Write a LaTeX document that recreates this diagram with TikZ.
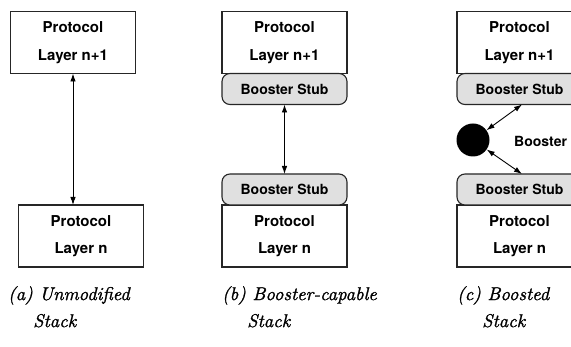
\documentclass[tikz,border=0pt]{standalone}
\usepackage{fontspec}
\newfontfamily\helv{TeX Gyre Heros}
\newfontfamily\capfont{lmroman10-italic.otf}[FakeBold=1.2]
\usetikzlibrary{arrows.meta, positioning, calc}

\begin{document}
\begin{tikzpicture}[x=1pt, y=-1pt,
    layer/.style={draw=black!85, line width=1.1pt, fill=white, outer sep=0pt, inner sep=0pt,
      minimum width=125pt, minimum height=62pt, align=center,
      font=\helv\bfseries\fontsize{15}{27.5}\selectfont},
    stub/.style={draw=black!85, line width=1.1pt, fill=black!12, rounded corners=8pt,
      outer sep=0pt, inner sep=0pt, minimum width=125pt, minimum height=31pt,
      font=\helv\bfseries\fontsize{14}{16}\selectfont},
    link/.style={{Latex[length=8pt,width=5.5pt]}-{Latex[length=8pt,width=5.5pt]}, line width=0.9pt},
    caption/.style={anchor=north west, align=left, inner sep=0pt,
      font=\capfont\fontsize{18.5}{27}\selectfont}]
  \useasboundingbox (0,0) rectangle (571,347);
  \clip (0,0) rectangle (571,347);

  % (a) unmodified stack
  \node[layer] (upa) at (73,42.5) {Protocol\\Layer n+1};
  \node[layer] (lowa) at (81,236) {Protocol\\Layer n};
  \draw[link] (upa.south) -- (upa.south |- lowa.north);
  \node[caption] (capa) at (8,286) {(a) Unmodified\\\hspace*{25pt}Stack};

  % (b) booster-capable stack
  \node[layer] (upb) at (284.5,42.5) {Protocol\\Layer n+1};
  \node[stub, below=0pt of upb] (stubub) {Booster Stub};
  \node[layer] (lowb) at (284.5,236) {Protocol\\Layer n};
  \node[stub, above=0pt of lowb] (stublb) {Booster Stub};
  \draw[link] (stubub) -- (stublb);
  \node[caption] (capb) at (222,286) {(b) Booster-capable\\\hspace*{25pt}Stack};

  % (c) boosted stack
  \node[layer] (upc) at (519.5,42.5) {Protocol\\Layer n+1};
  \node[stub, below=0pt of upc] (stubuc) {Booster Stub};
  \node[layer] (lowc) at (519.5,236) {Protocol\\Layer n};
  \node[stub, above=0pt of lowc] (stublc) {Booster Stub};
  \node[circle, fill=black, minimum size=33pt, inner sep=0pt] (hub) at (473,140) {};
  \node[anchor=west, inner sep=0pt, font=\helv\bfseries\fontsize{14}{16}\selectfont] (hubname) at (514,141) {Booster};
  \draw[link] (hub) -- ([xshift=2.5pt]stubuc.south);
  \draw[link] (hub) -- ([xshift=2.5pt]stublc.north);
  \node[caption] (capc) at (457,286) {(c) Boosted\\\hspace*{25pt}Stack};
\end{tikzpicture}
\end{document}
